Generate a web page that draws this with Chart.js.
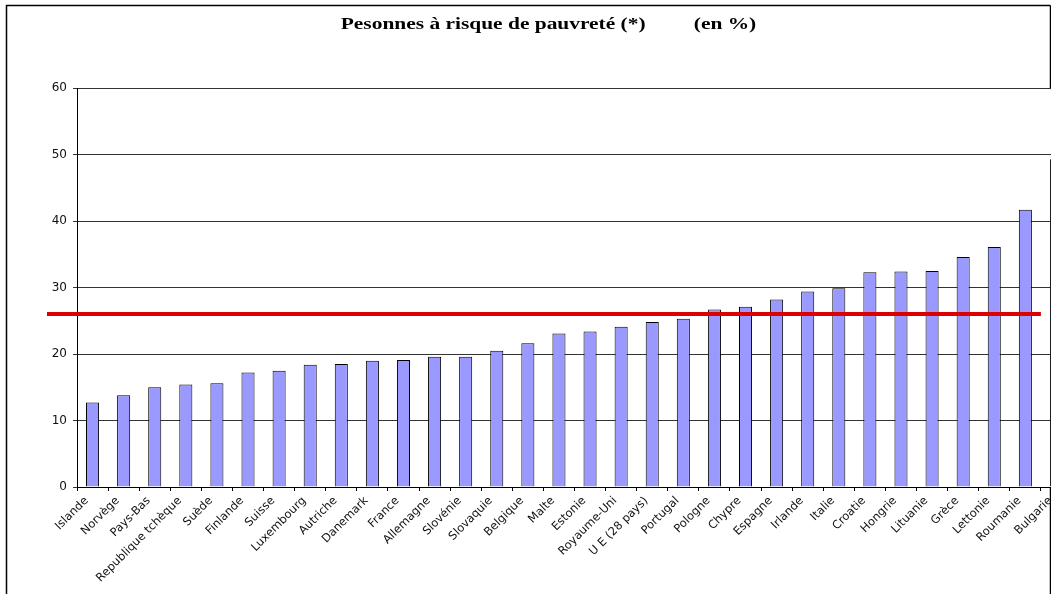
<!DOCTYPE html>
<html>
<head>
<meta charset="utf-8">
<script src="https://cdn.jsdelivr.net/npm/chart.js@4.4.0/dist/chart.umd.min.js"></script>
<style>
html,body{margin:0;padding:0;background:#fff;overflow:hidden}
#wrap{width:1051px;height:594px;overflow:hidden;position:relative}
canvas{display:block}
</style>
</head>
<body>
<div id="wrap"><canvas id="c" width="1090" height="594"></canvas></div>
<script>
const titleMain = 'Pesonnes à risque de pauvreté (*)';
const titleUnit = '(en %)';
const categories = ['Islande','Norvège','Pays-Bas','Republique tchèque','Suède','Finlande','Suisse','Luxembourg','Autriche','Danemark','France','Allemagne','Slovénie','Slovaquie','Belgique','Malte','Estonie','Royaume-Uni','U E (28 pays)','Portugal','Pologne','Chypre','Espagne','Irlande','Italie','Croatie','Hongrie','Lituanie','Grèce','Lettonie','Roumanie','Bulgarie'];
const values = [12.7,13.8,15.0,15.4,15.6,17.2,17.5,18.4,18.5,19.0,19.1,19.6,19.6,20.5,21.6,23.1,23.4,24.1,24.8,25.3,26.7,27.1,28.2,29.4,29.9,32.3,32.4,32.5,34.6,36.1,41.7,49.3];
const referenceLevel = 26;
const yMin = 0, yMax = 60, yStep = 10;

const framePlugin = {
  id: 'frame',
  beforeDraw(chart) {
    const ctx = chart.ctx, ca = chart.chartArea;
    ctx.save();
    ctx.fillStyle = '#fff';
    ctx.fillRect(0, 0, chart.width, chart.height);
    ctx.strokeStyle = '#000';
    ctx.lineWidth = 1.5;
    ctx.beginPath();
    ctx.moveTo(6.5, chart.height); ctx.lineTo(6.5, 5.5); ctx.lineTo(1050.5, 5.5);
    ctx.moveTo(1050.5, 5.5); ctx.lineTo(1050.5, ca.top);
    ctx.moveTo(1050.5, ca.bottom); ctx.lineTo(1050.5, chart.height);
    ctx.stroke();
    // title
    ctx.fillStyle = '#000';
    ctx.font = 'bold 17px "Liberation Serif", "Times New Roman", serif';
    ctx.textAlign = 'center';
    ctx.textBaseline = 'alphabetic';
    ctx.translate(548.5, 28.5);
    ctx.scale(1.26, 1);
    ctx.fillText(titleMain + '\u00A0'.repeat(9) + titleUnit, 0, 0);
    ctx.restore();
  }
};

const refLinePlugin = {
  id: 'refLine',
  afterDatasetsDraw(chart) {
    const ctx = chart.ctx, x = chart.scales.x, y = chart.scales.y;
    const py = y.getPixelForValue(referenceLevel);
    const last = categories.length - 2;
    const half = (x.getPixelForValue(1) - x.getPixelForValue(0)) / 2;
    ctx.save();
    ctx.strokeStyle = '#DD0000';
    ctx.lineWidth = 4;
    ctx.beginPath();
    ctx.moveTo(chart.chartArea.left - 30, py);
    ctx.lineTo(x.getPixelForValue(last) + half, py);
    ctx.stroke();
    ctx.restore();
  }
};

new Chart(document.getElementById('c'), {
  type: 'bar',
  data: {
    labels: categories,
    datasets: [{
      data: values,
      backgroundColor: '#9999FF',
      borderColor: '#000',
      borderWidth: 1,
      barPercentage: 0.42,
      categoryPercentage: 1
    }]
  },
  options: {
    responsive: false,
    animation: false,
    devicePixelRatio: 1,
    layout: { padding: { left: 25, right: 18, top: 88, bottom: 0 } },
    plugins: {
      legend: { display: false },
      tooltip: { enabled: false },
      title: { display: false }
    },
    scales: {
      x: {
        afterFit(s) { s.height = 107; },
        border: { display: true, color: '#000', width: 1 },
        grid: { drawOnChartArea: false, drawTicks: true, tickLength: 4, color: '#000', offset: true },
        ticks: {
          minRotation: 45, maxRotation: 45, autoSkip: false,
          color: '#111', padding: 3, labelOffset: -6,
          font: { family: 'DejaVu Sans', size: 11.5 }
        }
      },
      y: {
        min: yMin, max: yMax,
        afterFit(s) { s.width = 52; },
        border: { display: true, color: '#000', width: 1 },
        grid: { color: '#333', lineWidth: 1, tickLength: 4, drawTicks: true },
        ticks: {
          stepSize: yStep, color: '#111', padding: 6,
          font: { family: 'DejaVu Sans', size: 12 }
        }
      }
    }
  },
  plugins: [framePlugin, refLinePlugin]
});
</script>
</body>
</html>
